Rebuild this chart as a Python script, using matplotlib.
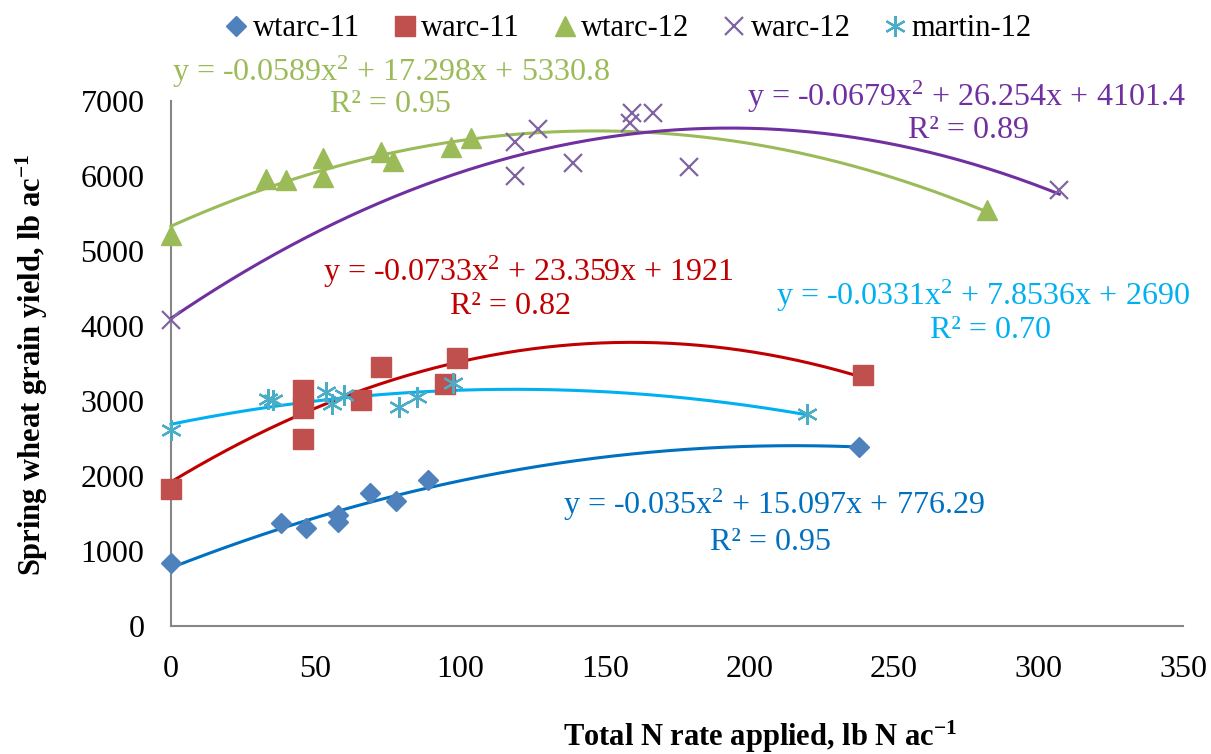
import numpy as np
import matplotlib
matplotlib.use("Agg")
import matplotlib.pyplot as plt
from matplotlib.lines import Line2D

plt.rcParams['font.family'] = ['Liberation Serif', 'DejaVu Serif']
plt.rcParams['mathtext.fontset'] = 'custom'
plt.rcParams['mathtext.rm'] = 'Liberation Serif'
plt.rcParams['mathtext.it'] = 'Liberation Serif:italic'
plt.rcParams['mathtext.bf'] = 'Liberation Serif:bold'

# ---- data ----
wtarc11_x = [0, 38.0, 46.7, 57.8, 57.8, 68.8, 77.8, 88.9, 238.0]
wtarc11_y = [840, 1373, 1307, 1480, 1387, 1773, 1667, 1947, 2387]

warc11_x = [0, 45.7, 45.7, 45.7, 65.7, 72.6, 94.8, 98.9, 239.4]
warc11_y = [1827, 3147, 2907, 2493, 3013, 3453, 3227, 3573, 3347]

wtarc12_x = [0, 32.9, 39.8, 52.6, 52.6, 72.6, 76.8, 96.9, 103.8, 282.3]
wtarc12_y = [5213, 5960, 5947, 6240, 5987, 6320, 6200, 6387, 6507, 5547]

warc12_x = [0, 119, 119, 127, 139, 159.5, 158.8, 166.7, 179.2, 307.2]
warc12_y = [4080, 6453, 6000, 6627, 6173, 6840, 6707, 6840, 6120, 5813]

martin12_x = [0, 33.5, 35.3, 53.6, 55.7, 59.8, 78.9, 85.1, 97.5, 220]
martin12_y = [2613, 3027, 3013, 3120, 2960, 3080, 2920, 3053, 3240, 2827]

# trendline coefficients (as printed on the chart)
coef_wtarc11 = [-0.035, 15.097, 776.29]
coef_warc11 = [-0.0733, 23.359, 1921]
coef_wtarc12 = [-0.0589, 17.298, 5330.8]
coef_warc12 = [-0.0679, 26.254, 4101.4]
coef_martin12 = [-0.0331, 7.8536, 2690]

labels = ['wtarc-11', 'warc-11', 'wtarc-12', 'warc-12', 'martin-12']
eq_texts = [
    ("y = -0.035x$^2$ + 15.097x + 776.29", "R² = 0.95"),
    ("y = -0.0733x$^2$ + 23.359x + 1921", "R² = 0.82"),
    ("y = -0.0589x$^2$ + 17.298x + 5330.8", "R² = 0.95"),
    ("y = -0.0679x$^2$ + 26.254x + 4101.4", "R² = 0.89"),
    ("y = -0.0331x$^2$ + 7.8536x + 2690", "R² = 0.70"),
]
x_ticks = [0, 50, 100, 150, 200, 250, 300, 350]
y_ticks = [0, 1000, 2000, 3000, 4000, 5000, 6000, 7000]

# ---- styles ----
W, H = 1211, 754
fig = plt.figure(figsize=(W / 100, H / 100), dpi=100)
ax = fig.add_axes([171 / W, 1 - 626 / H, (1183 - 171) / W, (626 - 101) / H])

series = [
    (wtarc11_x, wtarc11_y, coef_wtarc11, '#4F81BD', '#0070C0', dict(marker='D', ms=10.5, mec='#4F81BD')),
    (warc11_x, warc11_y, coef_warc11, '#C0504D', '#C00000', dict(marker='s', ms=14.5, mec='#C0504D')),
    (wtarc12_x, wtarc12_y, coef_wtarc12, '#9BBB59', '#9BBB59', dict(marker='^', ms=14, mec='#9BBB59')),
    (warc12_x, warc12_y, coef_warc12, '#8064A2', '#7030A0', dict(marker='x', ms=13, mew=1.6)),
    (martin12_x, martin12_y, coef_martin12, '#4BACC6', '#00B0F0', dict(marker=(6, 2, 0), ms=15, mew=1.6)),
]

handles = []
for (xs, ys, coef, mcol, lcol, mk), lab in zip(series, labels):
    xx = np.linspace(0, max(xs), 300)
    ax.plot(xx, np.polyval(coef, xx), color=lcol, lw=2.2, zorder=2, clip_on=False)
    ax.plot(xs, ys, ls='none', color=mcol, zorder=3, clip_on=False, **mk)
    handles.append(Line2D([], [], ls='none', color=mcol, label=lab, **mk))

ax.set_xlim(0, 350)
ax.set_ylim(0, 7000)
ax.set_xticks(x_ticks)
ax.set_yticks(y_ticks)
ax.tick_params(axis='both', length=0, labelsize=23)
ax.tick_params(axis='x', pad=21)
ax.tick_params(axis='y', pad=19)
for s in ['top', 'right']:
    ax.spines[s].set_visible(False)
for s in ['left', 'bottom']:
    ax.spines[s].set_color('#868686')
    ax.spines[s].set_linewidth(1.5)
    ax.spines[s].set_zorder(1)

# equation annotations (figure pixel positions)
eq_pos = [
    ((774, 505), (770, 543), '#0070C0'),
    ((528, 272), (510, 307), '#C00000'),
    ((391, 72), (391, 105), '#9BBB59'),
    ((966, 97), (968, 130), '#7030A0'),
    ((983, 296), (990, 330), '#00B0F0'),
]
for (eq, r2), (p1, p2, col) in zip(eq_texts, eq_pos):
    fig.text(p1[0] / W, 1 - p1[1] / H, eq, color=col, fontsize=23, ha='center', va='center')
    fig.text(p2[0] / W, 1 - p2[1] / H, r2, color=col, fontsize=23, ha='center', va='center')

fig.text(32 / W, 1 - 365 / H, "Spring wheat grain yield, lb ac$^{\\mathbf{-1}}$",
         rotation=90, fontsize=22, fontweight='bold', ha='center', va='center')
fig.text(760 / W, 1 - 737 / H, "Total N rate applied, lb N ac$^{\\mathbf{-1}}$",
         fontsize=22, fontweight='bold', ha='center', va='center')

fig.legend(handles=handles, loc='center', bbox_to_anchor=(628 / W, 1 - 29 / H), ncol=5,
           frameon=False, fontsize=22, handlelength=0.8, handletextpad=0.15,
           columnspacing=1.05, borderaxespad=0)

fig.savefig('out.png', dpi=100)
